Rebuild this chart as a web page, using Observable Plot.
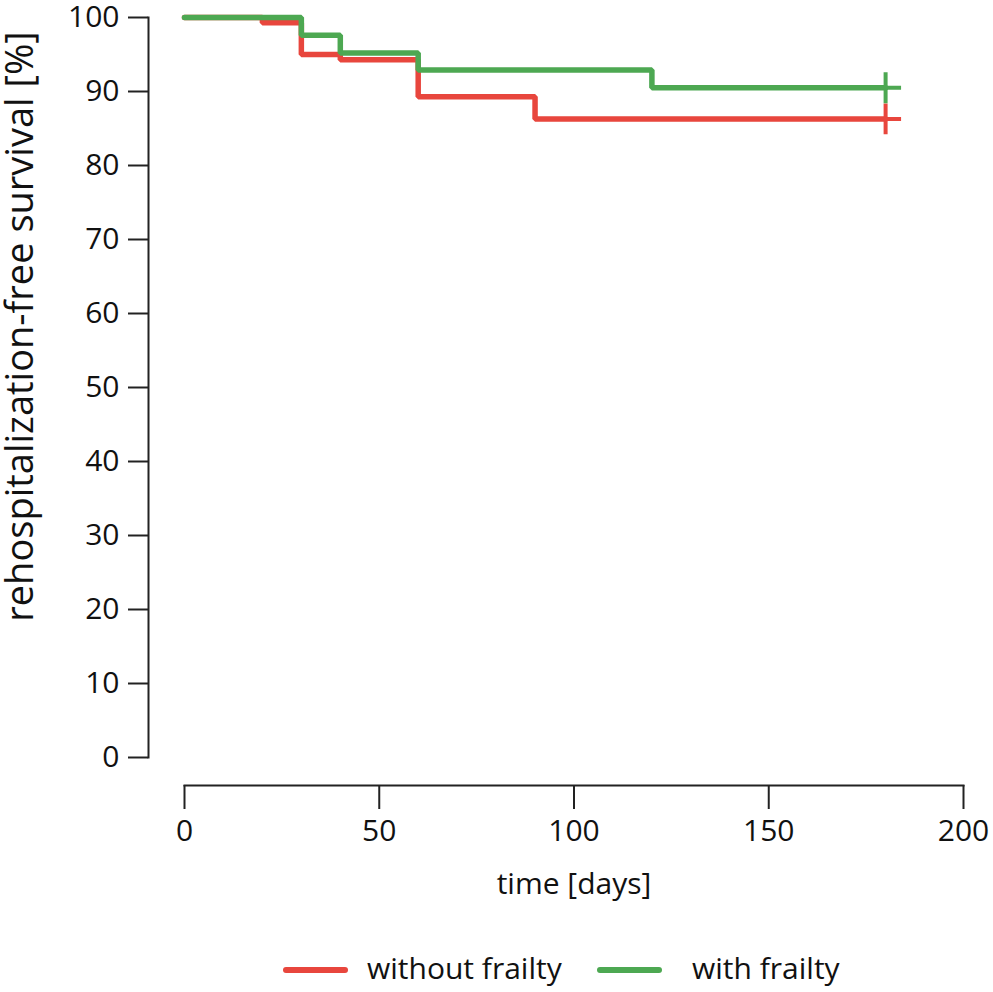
<!DOCTYPE html>
<html>
<head>
<meta charset="utf-8">
<script src="https://cdn.jsdelivr.net/npm/d3@7"></script>
<script src="https://cdn.jsdelivr.net/npm/@observablehq/plot@0.6"></script>
<style>
  html, body { margin: 0; padding: 0; background: #fff; }
  body { width: 993px; height: 992px; overflow: hidden; font-family: "Open Sans", sans-serif; }
  #legend { position: relative; height: 62px; font-size: 30px; color: #111; }
  .sw { position: absolute; top: 37px; width: 65px; height: 6px; border-radius: 3px; }
  .lb { position: absolute; top: 18px; line-height: 40px; }
</style>
</head>
<body>
<div id="chart"></div>
<div id="legend"></div>
<script>
// ---- data ----
const seriesNames = ["without frailty", "with frailty"];
const seriesColors = ["#E8463D", "#4DA852"];
const timesWithout = [0, 20, 30, 40, 60, 90, 180];
const survWithout  = [100, 99.3, 95.0, 94.3, 89.3, 86.3, 86.3];
const timesWith    = [0, 30, 40, 60, 120, 180];
const survWith     = [100, 97.6, 95.2, 92.9, 90.5, 90.5];
const censorTimes  = [180, 180];
const xTicks = [0, 50, 100, 150, 200];
const yTicks = [0, 10, 20, 30, 40, 50, 60, 70, 80, 90, 100];
const xLabel = "time [days]";
const yLabel = "rehospitalization-free survival [%]";

const rows = [
  ...timesWithout.map((t, i) => ({t, s: survWithout[i], g: seriesNames[0]})),
  ...timesWith.map((t, i) => ({t, s: survWith[i], g: seriesNames[1]}))
];
const censor = [
  {t: censorTimes[0], s: survWithout[survWithout.length - 1], g: seriesNames[0]},
  {t: censorTimes[1], s: survWith[survWith.length - 1], g: seriesNames[1]}
];

const axisColor = "#222";
const chart = Plot.plot({
  width: 993,
  height: 930,
  marginTop: 17,
  marginBottom: 173,
  marginLeft: 184,
  marginRight: 30,
  style: {fontFamily: "'Open Sans', sans-serif", fontSize: "30px", color: "#111", background: "#fff"},
  x: {domain: [0, 200]},
  y: {domain: [0, 100]},
  color: {domain: seriesNames, range: seriesColors},
  marks: [
    Plot.frame({anchor: "left", dx: -36, stroke: axisColor, strokeWidth: 2}),
    Plot.axisY({ticks: yTicks, tickSize: 20, tickPadding: 9, dx: -36, label: null,
                stroke: axisColor, strokeWidth: 2, fontSize: 30, fill: "#111"}),
    Plot.frame({anchor: "bottom", dy: 28, stroke: axisColor, strokeWidth: 2}),
    Plot.axisX({ticks: xTicks, tickSize: 24, tickPadding: 10, dy: 28, label: null,
                stroke: axisColor, strokeWidth: 2, fontSize: 30, fill: "#111"}),
    Plot.text([yLabel], {frameAnchor: "left", dx: -164, dy: -61, rotate: -90,
                         textAnchor: "middle", lineAnchor: "middle", fontSize: 38, fill: "#111"}),
    Plot.text([xLabel], {frameAnchor: "bottom", dy: 136, fontSize: 30, fill: "#111"}),
    Plot.line(rows.filter(d => d.g === seriesNames[0]), {x: "t", y: "s", stroke: "g",
              curve: "step-after", strokeWidth: 5.5, strokeLinejoin: "miter"}),
    Plot.line(rows.filter(d => d.g === seriesNames[1]), {x: "t", y: "s", stroke: "g",
              curve: "step-after", strokeWidth: 5.5, strokeLinejoin: "miter"}),
    Plot.dot(censor, {x: "t", y: "s", stroke: "g", symbol: "plus", r: 10, strokeWidth: 4})
  ]
});
document.getElementById("chart").appendChild(chart);

// legend
const legend = document.getElementById("legend");
const pos = [{sw: 283, lb: 367}, {sw: 597, lb: 692}];
seriesNames.forEach((name, i) => {
  const sw = document.createElement("div");
  sw.className = "sw";
  sw.style.left = pos[i].sw + "px";
  sw.style.background = seriesColors[i];
  legend.appendChild(sw);
  const lb = document.createElement("div");
  lb.className = "lb";
  lb.style.left = pos[i].lb + "px";
  lb.textContent = name;
  legend.appendChild(lb);
});
</script>
</body>
</html>
